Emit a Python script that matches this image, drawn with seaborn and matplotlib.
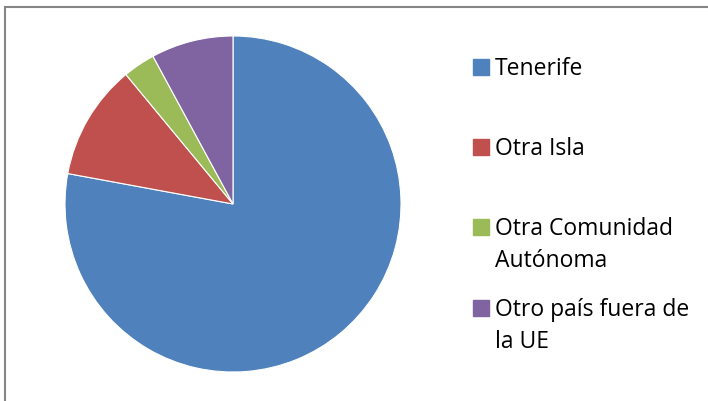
import matplotlib.pyplot as plt
import seaborn as sns
from matplotlib.patches import Rectangle

# Data
labels = ['Tenerife', 'Otra Isla', 'Otra Comunidad\nAutónoma', 'Otro país fuera de\nla UE']
values = [77.9, 11.1, 3.1, 7.9]
colors = ['#4F81BD', '#C0504D', '#9BBB59', '#8064A2']

sns.set_theme(style='white')
plt.rcParams['font.family'] = ['Open Sans', 'DejaVu Sans']

W, H = 708, 401
fig = plt.figure(figsize=(W / 100, H / 100), dpi=100)

# chart area border (only top and left visible)
fig.add_artist(Rectangle((4.5 / W, -0.1), 2, 1 - 6.5 / H + 0.1,
                         transform=fig.transFigure, fill=False,
                         edgecolor='#868686', linewidth=1.5))

cx, cy, r = 233, 204, 168
ax = fig.add_axes([(cx - r) / W, (H - cy - r) / H, 2 * r / W, 2 * r / H])
ax.pie(values, colors=colors, startangle=90, counterclock=False,
       wedgeprops=dict(edgecolor='white', linewidth=0.8))
ax.set_xlim(-1, 1)
ax.set_ylim(-1, 1)
ax.set_aspect('equal')
ax.axis('off')

# legend, Excel style: square next to first line, wrapped lines below
baselines = [75, 155, 235, 316]
line_step = 32
for lab, col, yb in zip(labels, colors, baselines):
    fig.add_artist(Rectangle((473 / W, 1 - yb / H), 16 / W, 16 / H,
                             transform=fig.transFigure, color=col))
    for i, line in enumerate(lab.split('\n')):
        fig.text(495 / W, 1 - (yb + i * line_step) / H, line, fontsize=16.5,
                 color='black', va='baseline', ha='left')

fig.savefig('out.png', dpi=100)
